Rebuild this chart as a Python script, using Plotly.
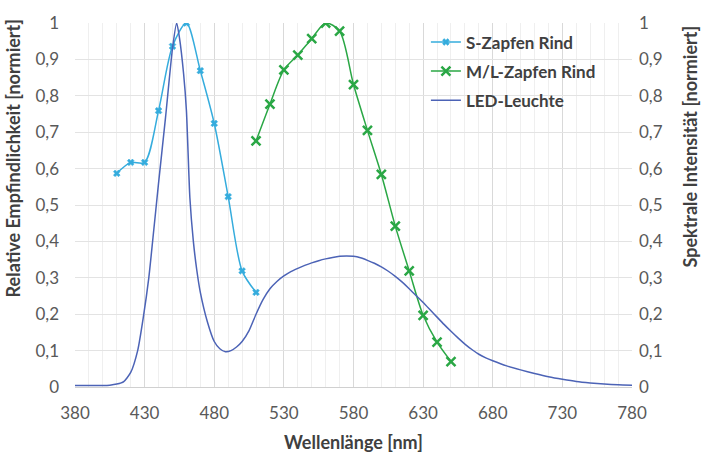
import plotly.graph_objects as go

# S-Zapfen Rind
s_wl = [410, 420, 430, 440, 450, 460, 470, 480, 490, 500, 510]
s_val = [0.587, 0.617, 0.617, 0.759, 0.936, 1.0, 0.869, 0.724, 0.523, 0.319, 0.26]

# M/L-Zapfen Rind
ml_wl = [510, 520, 530, 540, 550, 560, 570, 580, 590, 600, 610, 620, 630, 640, 650]
ml_val = [0.676, 0.777, 0.871, 0.912, 0.957, 1.0, 0.978, 0.831, 0.705, 0.584, 0.442, 0.319, 0.197, 0.123, 0.07]

# LED-Leuchte
led_wl = [380, 385, 390, 395, 400, 405, 410, 415, 420, 425, 429, 433, 436, 440, 445,
          450, 453, 455, 458, 460, 462.5, 465, 467.5, 470, 475, 480, 484, 488, 492,
          496, 500, 505, 510, 515, 520, 525, 530, 535, 540, 545, 550, 555, 560, 565,
          570, 575, 580, 585, 590, 595, 600, 605, 610, 615, 620, 625, 630, 635, 640,
          645, 650, 655, 660, 665, 670, 675, 680, 690, 700, 710, 720, 730, 740, 750,
          760, 770, 780]
led_val = [0.004, 0.004, 0.004, 0.004, 0.004, 0.005, 0.008, 0.015, 0.04, 0.1, 0.19, 0.3, 0.41, 0.56, 0.74,
           0.93, 1.0, 0.96, 0.86, 0.76, 0.52, 0.4, 0.32, 0.26, 0.18, 0.125, 0.105, 0.097, 0.1,
           0.11, 0.125, 0.155, 0.2, 0.24, 0.27, 0.29, 0.305, 0.317, 0.326, 0.334, 0.341, 0.347, 0.352, 0.356,
           0.359, 0.36, 0.359, 0.355, 0.348, 0.34, 0.33, 0.318, 0.304, 0.288, 0.27, 0.251, 0.232, 0.212, 0.192,
           0.172, 0.153, 0.135, 0.118, 0.103, 0.09, 0.08, 0.072, 0.058, 0.047, 0.037, 0.028, 0.021, 0.015, 0.011,
           0.008, 0.006, 0.005]

x_ticks = list(range(380, 781, 50))
y_ticks = [round(i * 0.1, 1) for i in range(11)]

FONT = "Lato, 'Open Sans', sans-serif"
TICK_COL = "#595959"
TITLE_COL = "#404040"
S_COL = "#35ACDD"
ML_COL = "#2AA745"
LED_COL = "#4C63B6"

fig = go.Figure()
fig.add_trace(go.Scatter(
    x=s_wl, y=s_val, name="S-Zapfen Rind", mode="lines+markers",
    line=dict(color=S_COL, width=1.5, shape="spline", smoothing=0.8),
    marker=dict(symbol="x", size=6, color=S_COL, line=dict(width=0.5, color=S_COL)),
    legendgroup="a",
))
fig.add_trace(go.Scatter(
    x=ml_wl, y=ml_val, name="M/L-Zapfen Rind", mode="lines+markers",
    line=dict(color=ML_COL, width=1.5, shape="spline", smoothing=0.8),
    marker=dict(symbol="x-thin", size=9, color=ML_COL, line=dict(width=2.5, color=ML_COL)),
    legendgroup="b",
))
fig.add_trace(go.Scatter(
    x=led_wl, y=led_val, name="LED-Leuchte", mode="lines",
    line=dict(color=LED_COL, width=1.5, shape="spline", smoothing=0.6),
    legendgroup="c", yaxis="y2",
))

title_font = dict(family=FONT, size=18, color=TITLE_COL, weight="bold")

fig.update_layout(
    width=706, height=453,
    margin=dict(l=75, r=74, t=14, b=66),
    paper_bgcolor="white", plot_bgcolor="white",
    separators=",.",
    font=dict(family=FONT, size=17, color=TICK_COL),
    showlegend=True,
    legend=dict(
        x=0.63, y=0.996, xanchor="left", yanchor="top",
        font=dict(family=FONT, size=17, color=TITLE_COL, weight="bold"),
        bgcolor="rgba(255,255,255,0)", tracegroupgap=4,
        itemwidth=30,
    ),
    xaxis=dict(
        range=[380, 780], tickvals=x_ticks, ticks="",
        showgrid=True, gridcolor="#D9D9D9", gridwidth=1,
        minor=dict(dtick=10, tick0=380, showgrid=True, gridcolor="#EFEFEF", gridwidth=1),
        showline=True, linecolor="#D0D0D0", linewidth=1,
        zeroline=False,
        tickfont=dict(size=17, color=TICK_COL), ticklabelstandoff=11,
    ),
    yaxis=dict(
        range=[0, 1], tickvals=y_ticks, ticks="",
        showgrid=True, gridcolor="#E3E3E3", gridwidth=1,
        zeroline=False, showline=False,
        tickfont=dict(size=17, color=TICK_COL), ticklabelstandoff=15,
    ),
    yaxis2=dict(
        range=[0, 1], tickvals=y_ticks, ticks="", overlaying="y", side="right",
        showgrid=False, zeroline=False, showline=False,
        tickfont=dict(size=17, color=TICK_COL), ticklabelstandoff=6,
    ),
    annotations=[
        dict(text="Wellenlänge [nm]", xref="paper", yref="paper", x=0.5, y=-0.15,
             xanchor="center", yanchor="middle", showarrow=False, font=title_font),
        dict(text="Relative Empfindlichkeit [normiert]", xref="paper", yref="paper",
             x=-0.112, y=0.627, xanchor="center", yanchor="middle", textangle=-90,
             showarrow=False, font=title_font),
        dict(text="Spektrale Intensität [normiert]", xref="paper", yref="paper",
             x=1.105, y=0.662, xanchor="center", yanchor="middle", textangle=-90,
             showarrow=False, font=title_font),
    ],
)

fig.write_html("out.html")
